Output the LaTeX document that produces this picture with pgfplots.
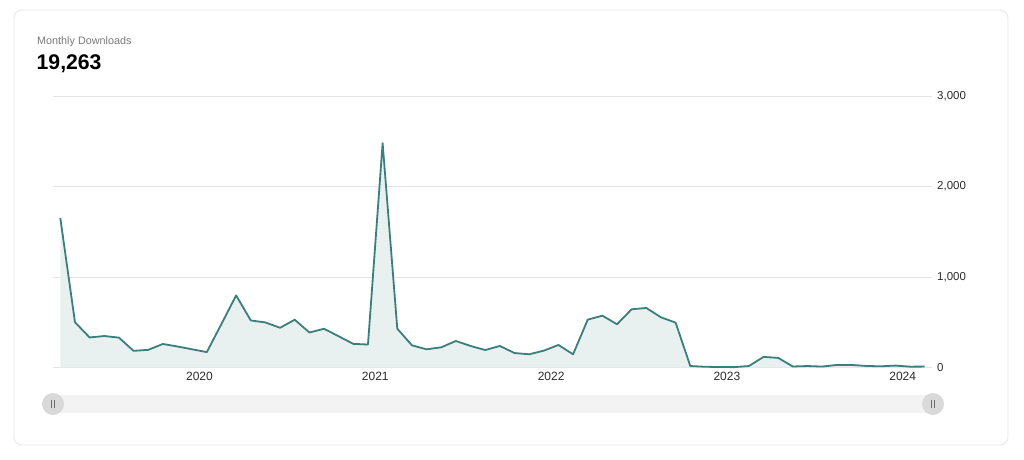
\documentclass[border=0pt]{standalone}
\usepackage{pgfplots}
\pgfplotsset{compat=1.18}
\usepackage{pgfplotstable}
\usepackage{fontspec}
\setmainfont{Liberation Sans}
\definecolor{lineteal}{HTML}{3A7F7D}
\definecolor{fillteal}{HTML}{E9F1F0}
\definecolor{gridgray}{HTML}{E4E4E4}
\definecolor{cardgray}{HTML}{E6E6E6}
\definecolor{titlegray}{HTML}{7A7A7A}
\definecolor{ticktext}{HTML}{2B2B2B}
\definecolor{tracky}{HTML}{F3F3F3}
\definecolor{handle}{HTML}{D9D9D9}
\definecolor{handlemark}{HTML}{6E6E6E}

\pgfplotstableread{
idx val
0 1650
1 498
2 330
3 346
4 328
5 182
6 193
7 258
8 230
9 199
10 168
11 480
12 795
13 518
14 496
15 437
16 526
17 385
18 426
19 343
20 259
21 252
22 2478
23 427
24 243
25 199
26 221
27 291
28 236
29 191
30 236
31 158
32 144
33 184
34 247
35 144
36 527
37 571
38 476
39 642
40 656
41 553
42 494
43 14
44 6
45 3
46 2
47 14
48 115
49 104
50 9
51 14
52 8
53 26
54 26
55 15
56 11
57 19
58 7
59 8
}\downloads

\begin{document}
\begin{tikzpicture}
\begin{scope}[x=1pt,y=1pt]
\useasboundingbox (0,0) rectangle (1024,459);
\fill[white] (0,0) rectangle (1024,459);
\draw[cardgray, line width=0.8pt, rounded corners=8pt] (14,14) rectangle (1008,449);
\node[anchor=base west, inner sep=0pt, text=titlegray, font=\fontsize{10.8}{13}\selectfont] at (37,414.5) {Monthly Downloads};
\node[anchor=base west, inner sep=0pt, text=black, font=\fontsize{21.2}{24}\selectfont\bfseries] at (36.5,390) {19,263};

% range slider decoration
\fill[tracky] (53,46) rectangle (933,64);
\fill[handle] (53,55) circle (11);
\fill[handle] (933,55) circle (11);
\draw[handlemark, line width=0.7pt] (51.6,51) -- (51.6,59) (54.4,51) -- (54.4,59);
\draw[handlemark, line width=0.7pt] (931.6,51) -- (931.6,59) (934.4,51) -- (934.4,59);
\end{scope}

\begin{axis}[
  at={(53pt,91.7pt)}, anchor=south west,
  scale only axis, width=879pt, height=271.3pt,
  xmin=-0.5, xmax=59.5, ymin=0, ymax=3000,
  axis line style={draw=none},
  major tick length=0pt,
  xtick={9.5,21.5,33.5,45.5,57.5},
  xticklabels={2020,2021,2022,2023,2024},
  ytick={0,1000,2000,3000},
  yticklabels={0,{1,000},{2,000},{3,000}},
  yticklabel pos=right,
  ymajorgrids, grid style={gridgray, line width=0.7pt},
  xticklabel style={anchor=north, inner sep=0pt, yshift=-4.5pt, text=ticktext, font=\fontsize{12}{14}\selectfont},
  yticklabel style={anchor=west, inner sep=0pt, xshift=5pt, text=ticktext, font=\fontsize{11.5}{13}\selectfont},
  clip=false,
]
\addplot[draw=none, fill=fillteal] table[x=idx, y=val] {\downloads} \closedcycle;
\addplot[lineteal, line width=1.8pt, line join=round, mark=none] table[x=idx, y=val] {\downloads};
\end{axis}
\end{tikzpicture}
\end{document}
